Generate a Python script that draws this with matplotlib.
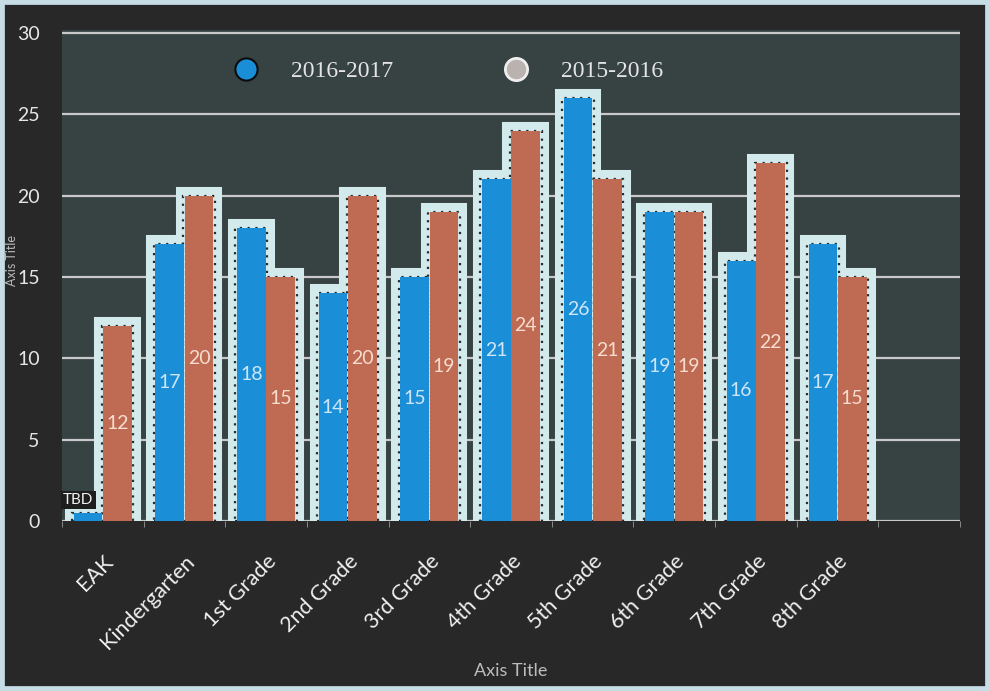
import matplotlib
matplotlib.use("Agg")
import matplotlib.pyplot as plt
import numpy as np
from matplotlib.lines import Line2D
from matplotlib.patches import Rectangle

categories = ["EAK", "Kindergarten", "1st Grade", "2nd Grade", "3rd Grade",
              "4th Grade", "5th Grade", "6th Grade", "7th Grade", "8th Grade", ""]
series_2016_2017 = [0.5, 17, 18, 14, 15, 21, 26, 19, 16, 17, None]
series_2015_2016 = [12, 20, 15, 20, 19, 24, 21, 19, 22, 15, None]
labels_2016_2017 = ["TBD", "17", "18", "14", "15", "21", "26", "19", "16", "17", ""]
labels_2015_2016 = ["12", "20", "15", "20", "19", "24", "21", "19", "22", "15", ""]
yticks = [0, 5, 10, 15, 20, 25, 30]

BLUE = "#1a8fd8"
ORANGE = "#bf6a52"
GLOW = "#d3eaec"
PLOT_BG = "#374242"
FIG_BG = "#282828"

fig = plt.figure(figsize=(9.9, 6.91), dpi=100)
fig.patch.set_facecolor(FIG_BG)
YMAX = 30.2
top_px = 521 - 488 * YMAX / 30
ax = fig.add_axes([62/990, 1-521/691, 898/990, (521 - top_px)/691])
ax.set_facecolor(PLOT_BG)

x = np.arange(len(categories))
w = 0.35
off = 0.18

xb = [xi - off for xi, v in zip(x, series_2016_2017) if v is not None]
vb = [v for v in series_2016_2017 if v is not None]
xo = [xi + off for xi, v in zip(x, series_2015_2016) if v is not None]
vo = [v for v in series_2015_2016 if v is not None]

# glow outline behind bars
ax.bar(xb, vb, width=w, color=GLOW, edgecolor=GLOW, linewidth=13, zorder=2)
ax.bar(xo, vo, width=w, color=GLOW, edgecolor=GLOW, linewidth=13, zorder=2)
# dotted texture
ax.bar(xb, vb, width=w + 0.04, color="none", edgecolor="#2a2a2a", linewidth=1.6,
       linestyle=(0, (1, 2.5)), zorder=2.5)
ax.bar(xo, vo, width=w + 0.04, color="none", edgecolor="#2a2a2a", linewidth=1.6,
       linestyle=(0, (1, 2.5)), zorder=2.5)
# bars
bb = ax.bar(xb, vb, width=w, color=BLUE, linewidth=0, zorder=3)
bo = ax.bar(xo, vo, width=w, color=ORANGE, linewidth=0, zorder=3)

for xi, v, lab in zip(xb, vb, labels_2016_2017):
    if lab == "TBD":
        ax.text(xi - 0.12, 1.3, lab, ha="center", va="center", color="#f0f0f0",
                fontsize=11, family="Lato", zorder=5,
                bbox=dict(boxstyle="square,pad=0.15", fc="#1e1e1e", ec="none"))
    else:
        ax.text(xi, v / 2, lab, ha="center", va="center", color="#cfe6f6",
                fontsize=14, family="Lato", zorder=5)
for xi, v, lab in zip(xo, vo, labels_2015_2016):
    ax.text(xi, v / 2, lab, ha="center", va="center", color="#f6ddd0",
            fontsize=14, family="Lato", zorder=5)

ax.set_xlim(-0.5, len(categories) - 0.5)
ax.set_ylim(0, YMAX)
ax.set_yticks(yticks)
ax.set_yticklabels([str(t) for t in yticks], color="#e6e6e6", fontsize=14, family="Lato")
ax.yaxis.grid(True, color="#c9c9c9", linewidth=1.6, zorder=1)
ax.set_axisbelow(True)
ax.tick_params(axis="y", length=0, pad=16)
ax.set_xticks(x)
ax.set_xticklabels(categories, rotation=45, ha="right", rotation_mode="anchor",
                   color="#f0f0f0", fontsize=15.5, family="Lato")
ax.tick_params(axis="x", length=0, pad=22)
ax.set_xticks(np.arange(len(categories) + 1) - 0.5, minor=True)
ax.tick_params(axis="x", which="minor", length=4, color="#9a9a9a")
for s in ax.spines.values():
    s.set_visible(False)

ax.set_xlabel("Axis Title", color="#bdbdbd", fontsize=13, family="Lato")
ax.xaxis.set_label_coords(0.5, -0.29)
ax.set_ylabel("Axis Title", color="#bdbdbd", fontsize=9, family="Lato", va="center")
ax.yaxis.set_label_coords(-0.056, 0.53)

handles = [Line2D([], [], linestyle="none", marker="o", markersize=16,
                  markerfacecolor=BLUE, markeredgecolor="#0c0c0c", markeredgewidth=1.5),
           Line2D([], [], linestyle="none", marker="o", markersize=16,
                  markerfacecolor="#b9b2ae", markeredgecolor="#efefef", markeredgewidth=2)]
leg = ax.legend(handles, ["2016-2017", "2015-2016"], ncol=2, frameon=False,
                loc="center left", bbox_to_anchor=(0.155, 0.915),
                prop=dict(family="Liberation Serif", size=17),
                handletextpad=0.9, columnspacing=4.2, labelcolor="#e4e4e4")

# scanned page border
fig.patches.append(Rectangle((0, 0), 1, 1, transform=fig.transFigure, fill=False,
                             edgecolor="#c6dde5", linewidth=7, zorder=0))
fig.savefig("out.png", dpi=100, facecolor=FIG_BG)
